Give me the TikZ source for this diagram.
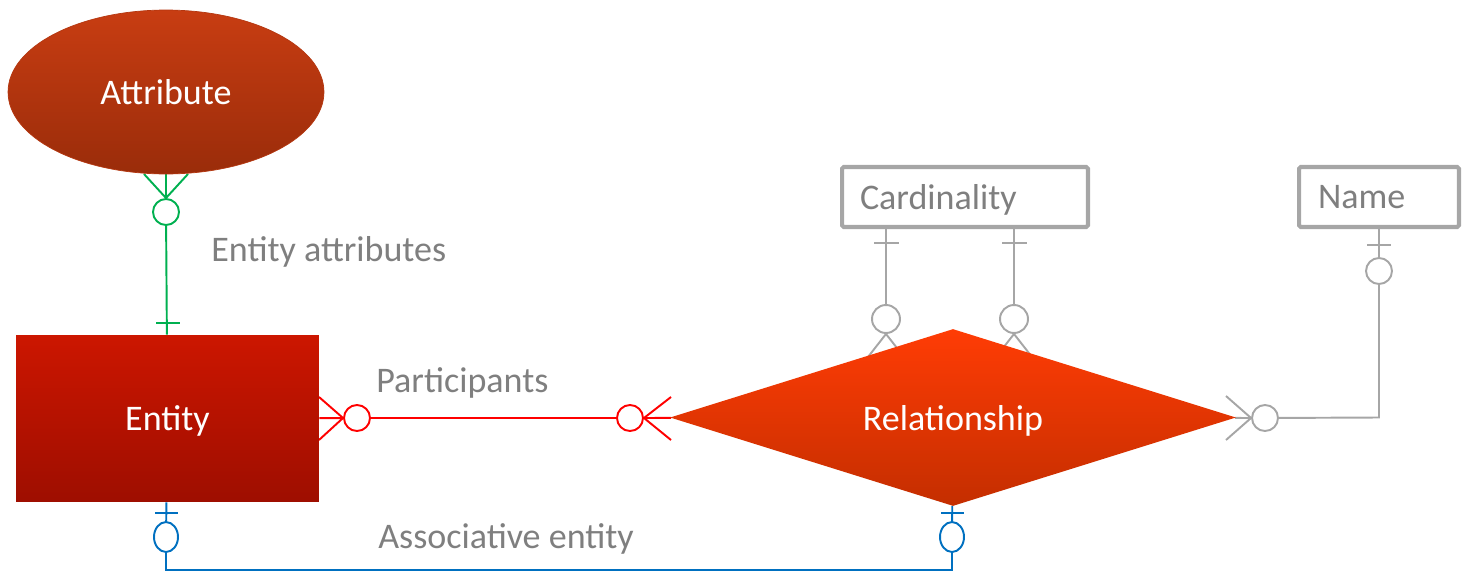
\documentclass[tikz,border=0pt]{standalone}
\usepackage{fontspec}
\setmainfont{Carlito}
\usetikzlibrary{shapes.geometric}
\pgfdeclarelayer{background}
\pgfsetlayers{background,main}
\definecolor{ergreen}{HTML}{00B050}
\definecolor{erred}{HTML}{FF0000}
\definecolor{erblue}{HTML}{0070C0}
\definecolor{ergrey}{HTML}{A6A6A6}
\definecolor{txtgrey}{HTML}{7F7F7F}
\definecolor{attrtop}{HTML}{C83D12}
\definecolor{attrbot}{HTML}{9A2C0A}
\definecolor{enttop}{HTML}{CC1600}
\definecolor{entbot}{HTML}{9E0E00}
\definecolor{reltop}{HTML}{FF3C05}
\definecolor{relbot}{HTML}{C42E00}

\begin{document}
\begin{tikzpicture}[x=0.02cm, y=-0.02cm, font=\fontsize{20.5}{24}\selectfont,
        conn/.style={line width=1.1pt},
        ring/.style={circle, draw, fill=white, line width=1.1pt, inner sep=0pt, minimum size=0.52cm},
        lbl/.style={text=txtgrey, anchor=west, inner sep=0pt},
        infobox/.style={draw=ergrey, line width=2.3pt, rounded corners=1pt, text=txtgrey, align=left, minimum height=1.2cm, text depth=0pt}]
        \useasboundingbox (0,0) rectangle (1468,575);

        % shapes
        \node[ellipse, draw=attrtop!90!black, top color=attrtop, bottom color=attrbot, minimum width=6.32cm, minimum height=3.28cm, text=white, text depth=0pt] (attr) at (166,92) {Attribute};
        \node[rectangle, top color=enttop, bottom color=entbot, minimum width=6.06cm, minimum height=3.34cm, text=white, text depth=0pt] (ent) at (167.5,418.5) {Entity};
        \node[diamond, top color=reltop, bottom color=relbot, minimum width=11.32cm, minimum height=3.54cm, aspect=3.2, inner sep=0pt, text=white, text depth=0pt] (rel) at (953,417.5) {Relationship};
        \node[infobox, text width=4.2cm, inner xsep=0.36cm] (card) at (965,197) {Cardinality};
        \node[infobox, text width=2.44cm, inner xsep=0.38cm] (name) at (1379,197) {Name};

        % rings
        \node[ring, draw=ergreen] (ga) at (166,212) {};
        \node[ring, draw=erred] (re) at (357,418) {};
        \node[ring, draw=erred] (rr) at (630,418) {};
        \node[ring, draw=ergrey, minimum size=0.56cm] (cl) at (886,319) {};
        \node[ring, draw=ergrey, minimum size=0.56cm] (cr) at (1014,319) {};
        \node[ring, draw=ergrey] (na) at (1379,271) {};
        \node[ring, draw=ergrey] (nr) at (1265,418) {};
        \node[ellipse, draw=erblue, fill=white, line width=1.1pt, inner sep=0pt, minimum width=0.48cm, minimum height=0.6cm] (be) at (166,537) {};
        \node[ellipse, draw=erblue, fill=white, line width=1.1pt, inner sep=0pt, minimum width=0.48cm, minimum height=0.6cm] (br) at (952,537) {};

        \begin{pgfonlayer}{background}
        % entity attributes
        \draw[conn, ergreen] (attr) -- (ga);
        \draw[conn, ergreen] (144,174) -- (ga.north) -- (188,174);
        \draw[conn, ergreen] (ga) -- (ent);
        \draw[conn, ergreen] (156,323) -- (180,323);
        % participants
        \draw[conn, erred] (ent) -- (re) -- (rr) -- (rel);
        \draw[conn, erred] (319,397) -- (re.west) -- (319,440);
        \draw[conn, erred] (671,397) -- (rr.east) -- (671,440);
        % cardinality
        \draw[conn, ergrey] (card.south -| cl) -- (cl) -- (cl |- rel.north);
        \draw[conn, ergrey] (card.south -| cr) -- (cr) -- (cr |- rel.north);
        \draw[conn, ergrey] (868,357) -- (cl.south) -- (904,357);
        \draw[conn, ergrey] (996,357) -- (cr.south) -- (1032,357);
        \draw[conn, ergrey] (874,243) -- (899,243);
        \draw[conn, ergrey] (1002,243) -- (1027,243);
        % name
        \draw[conn, ergrey] (name) -- (na) -- (na |- rel) -- (nr) -- (rel);
        \draw[conn, ergrey] (1367,245) -- (1391,245);
        \draw[conn, ergrey] (1226,396) -- (nr.west) -- (1226,440);
        % associative entity
        \draw[conn, erblue] (ent) -- (be) -- (166,570) -| (br) -- (rel);
        \draw[conn, erblue] (155,513) -- (178,513);
        \draw[conn, erblue] (941,513) -- (964,513);
        \end{pgfonlayer}

        % labels
        \node[lbl] (lattr) at (211,252) {Entity attributes};
        \node[lbl] (lpart) at (376,383) {Participants};
        \node[lbl] (lassoc) at (378,539) {Associative entity};
\end{tikzpicture}
\end{document}
